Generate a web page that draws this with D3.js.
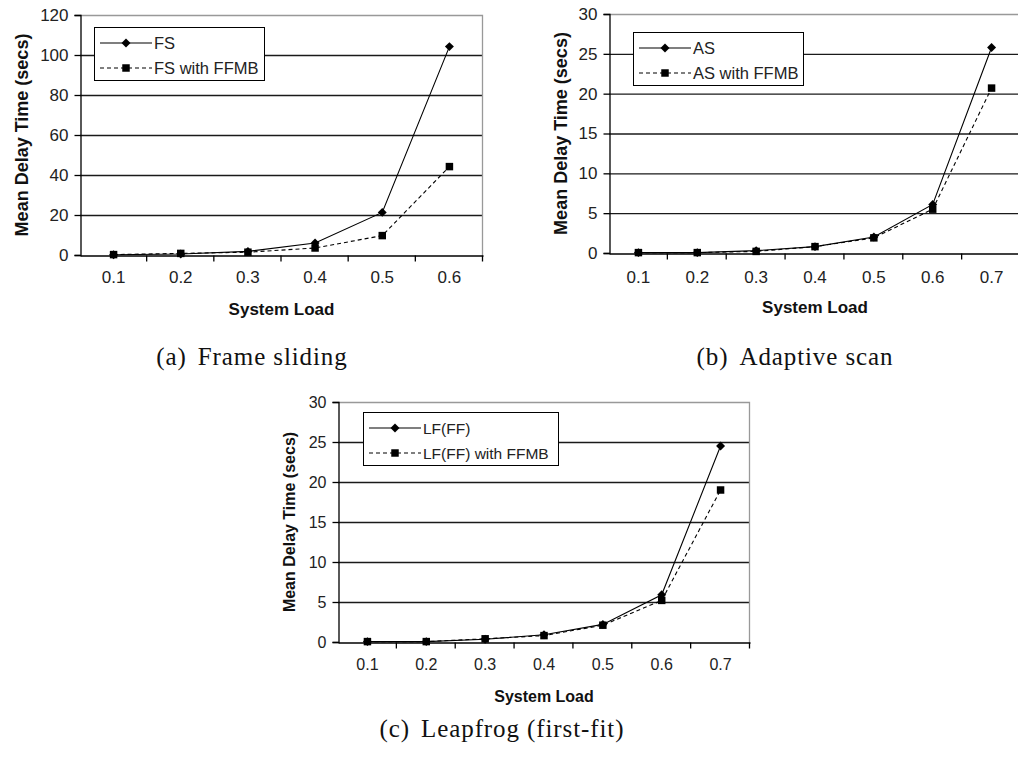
<!DOCTYPE html>
<html>
<head>
<meta charset="utf-8">
<script src="https://cdn.jsdelivr.net/npm/d3@7"></script>
<style>
  body { margin: 0; background: #fff; }
  svg { display: block; }
  .tick text { font-family: "Liberation Sans", Arial, sans-serif; fill: #222; }
</style>
</head>
<body>
<svg id="fig" width="1018" height="760"></svg>
<script>
// system load categories
var loadsA = ["0.1", "0.2", "0.3", "0.4", "0.5", "0.6"];
var loadsB = ["0.1", "0.2", "0.3", "0.4", "0.5", "0.6", "0.7"];
var loadsC = ["0.1", "0.2", "0.3", "0.4", "0.5", "0.6", "0.7"];

// mean delay (secs)
var fsVals      = [0.1, 0.5, 1.8, 6.0, 21.3, 104.2];
var fsFfmbVals  = [0.2, 0.8, 1.4, 3.5, 9.7, 44.2];
var asVals      = [0.05, 0.05, 0.3, 0.8, 2.0, 6.1, 25.8];
var asFfmbVals  = [0.05, 0.05, 0.2, 0.8, 1.9, 5.5, 20.7];
var lfVals      = [0.05, 0.05, 0.35, 0.9, 2.2, 5.9, 24.5];
var lfFfmbVals  = [0.05, 0.05, 0.4, 0.8, 2.1, 5.2, 19.0];

// y tick labels
var yTicksA = [0, 20, 40, 60, 80, 100, 120];
var yTicksB = [0, 5, 10, 15, 20, 25, 30];
var yTicksC = [0, 5, 10, 15, 20, 25, 30];

var svg = d3.select('#fig');

// diamond = square turned 45deg
var diamond = d3.symbol().type(d3.symbolSquare).size(40);
var square = d3.symbol().type(d3.symbolSquare).size(56);

function drawChart(opt) {
    var g = svg.append('g');
    var x = d3.scaleBand().domain(opt.cats).range([opt.left, opt.right]).padding(0);
    var y = d3.scaleLinear().domain([0, d3.max(opt.yTicks)]).range([opt.bottom, opt.top]);
    var cx = function(d) { return x(d) + x.bandwidth() / 2; };

    // gridlines (not at 0 or top)
    g.selectAll('.grid').data(opt.yTicks.slice(1, -1)).enter().append('line')
        .attr('x1', opt.left).attr('x2', opt.right)
        .attr('y1', function(d) { return y(d) + 0.5; })
        .attr('y2', function(d) { return y(d) + 0.5; })
        .attr('stroke', '#1a1a1a').attr('stroke-width', 1.3);

    // plot border, top and right in grey
    g.append('path')
        .attr('d', 'M' + opt.left + ',' + (y(d3.max(opt.yTicks)) + 0.5) + 'H' + (opt.right - 0.5) + 'V' + opt.bottom)
        .attr('fill', 'none').attr('stroke', '#999').attr('stroke-width', 1.3);

    // y axis
    var yAxis = g.append('g').attr('transform', 'translate(' + (opt.left + 0.5) + ',0)')
        .call(d3.axisLeft(y).tickValues(opt.yTicks).tickSize(6).tickPadding(6));
    yAxis.selectAll('.tick text').style('font-size', opt.tickFont + 'px');
    yAxis.selectAll('path, line').attr('stroke', '#000').attr('stroke-width', 1.3);

    // x axis: labels centred in bands, ticks at band edges
    var xAxis = g.append('g').attr('transform', 'translate(0,' + (opt.bottom + 0.5) + ')')
        .call(d3.axisBottom(x).tickSize(0).tickPadding(opt.xPad));
    xAxis.selectAll('.tick text').style('font-size', opt.tickFont + 'px');
    xAxis.select('.domain').attr('stroke', '#000').attr('stroke-width', 1.3);
    var edges = opt.cats.slice(1).map(function(c) { return x(c); }).concat([opt.right]);
    xAxis.selectAll('.edge').data(edges).enter().append('line')
        .attr('x1', function(d) { return d - 0.5; }).attr('x2', function(d) { return d - 0.5; })
        .attr('y1', 0).attr('y2', 6)
        .attr('stroke', '#000').attr('stroke-width', 1.3);

    // axis titles
    g.append('text')
        .attr('x', (opt.left + opt.right) / 2).attr('y', opt.bottom + 60)
        .attr('text-anchor', 'middle')
        .style('font-family', '"Liberation Sans", Arial, sans-serif')
        .style('font-weight', 'bold').style('font-size', opt.xTitleFont + 'px')
        .style('fill', '#111')
        .text('System Load');
    g.append('text')
        .attr('transform', 'translate(' + opt.yTitleX + ',' + ((opt.top + opt.bottom) / 2) + ') rotate(-90)')
        .attr('text-anchor', 'middle').attr('dy', '0.35em')
        .style('font-family', '"Liberation Sans", Arial, sans-serif')
        .style('font-weight', 'bold').style('font-size', opt.yTitleFont + 'px')
        .style('fill', '#111')
        .text('Mean Delay Time (secs)');

    // series
    var line = d3.line()
        .x(function(d) { return cx(d.cat); })
        .y(function(d) { return y(d.v); });
    var s1 = opt.cats.map(function(c, i) { return {cat: c, v: opt.s1[i]}; });
    var s2 = opt.cats.map(function(c, i) { return {cat: c, v: opt.s2[i]}; });

    g.append('path').datum(s1).attr('d', line)
        .attr('fill', 'none').attr('stroke', '#000').attr('stroke-width', 1.1);
    g.append('path').datum(s2).attr('d', line)
        .attr('fill', 'none').attr('stroke', '#000').attr('stroke-width', 1.1)
        .attr('stroke-dasharray', '4,3');

    g.selectAll('.m1').data(s1).enter().append('path')
        .attr('d', diamond)
        .attr('transform', function(d) { return 'translate(' + cx(d.cat) + ',' + y(d.v) + ') rotate(45)'; })
        .attr('fill', '#000');
    g.selectAll('.m2').data(s2).enter().append('path')
        .attr('d', square)
        .attr('transform', function(d) { return 'translate(' + cx(d.cat) + ',' + y(d.v) + ')'; })
        .attr('fill', '#000');

    // legend
    var lg = g.append('g').attr('transform', 'translate(' + opt.legX + ',' + opt.legY + ')');
    lg.append('rect').attr('x', 0.5).attr('y', 0.5)
        .attr('width', opt.legW).attr('height', 53)
        .attr('fill', '#fff').attr('stroke', '#000').attr('stroke-width', 1);
    var rows = [{name: opt.names[0], dash: null, sym: diamond, rot: 45, yy: 16},
                {name: opt.names[1], dash: '4,3', sym: square, rot: 0, yy: 41}];
    rows.forEach(function(r) {
        lg.append('line').attr('x1', 6).attr('x2', 58).attr('y1', r.yy).attr('y2', r.yy)
            .attr('stroke', '#000').attr('stroke-width', 1.1)
            .attr('stroke-dasharray', r.dash);
        lg.append('path').attr('d', r.sym)
            .attr('transform', 'translate(32,' + r.yy + ') rotate(' + r.rot + ')').attr('fill', '#000');
        lg.append('text').attr('x', 60).attr('y', r.yy).attr('dy', '0.36em')
            .style('font-family', '"Liberation Sans", Arial, sans-serif')
            .style('font-size', opt.legFont + 'px').style('fill', '#222')
            .text(r.name);
    });

    // caption
    var cap = svg.append('text')
        .attr('x', opt.capX).attr('y', opt.capY)
        .attr('text-anchor', 'middle')
        .style('font-family', '"Liberation Serif", "DejaVu Serif", serif')
        .style('font-size', '25px').style('letter-spacing', '0.9px').style('fill', '#111');
    cap.append('tspan').text(opt.capTag);
    cap.append('tspan').attr('dx', 11).text(opt.capText);
}

drawChart({
    cats: loadsA, yTicks: yTicksA, s1: fsVals, s2: fsFfmbVals,
    names: ['FS', 'FS with FFMB'],
    left: 80, right: 483, top: 15, bottom: 255,
    tickFont: 17, xTitleFont: 17, yTitleFont: 18, legFont: 16.5, xPad: 15, yTitleX: 22,
    legX: 94, legY: 27, legW: 170,
    capX: 252, capY: 365, capTag: '(a)', capText: 'Frame sliding'
});

drawChart({
    cats: loadsB, yTicks: yTicksB, s1: asVals, s2: asFfmbVals,
    names: ['AS', 'AS with FFMB'],
    left: 609, right: 1021, top: 14, bottom: 253,
    tickFont: 17, xTitleFont: 17, yTitleFont: 18, legFont: 16.5, xPad: 17, yTitleX: 561,
    legX: 633, legY: 32, legW: 170,
    capX: 795, capY: 365, capTag: '(b)', capText: 'Adaptive scan'
});

drawChart({
    cats: loadsC, yTicks: yTicksC, s1: lfVals, s2: lfFfmbVals,
    names: ['LF(FF)', 'LF(FF) with FFMB'],
    left: 338, right: 750, top: 402, bottom: 642,
    tickFont: 16, xTitleFont: 16, yTitleFont: 16, legFont: 15.5, xPad: 16, yTitleX: 289,
    legX: 363, legY: 412, legW: 195,
    capX: 502, capY: 737, capTag: '(c)', capText: 'Leapfrog (first-fit)'
});
</script>
</body>
</html>
